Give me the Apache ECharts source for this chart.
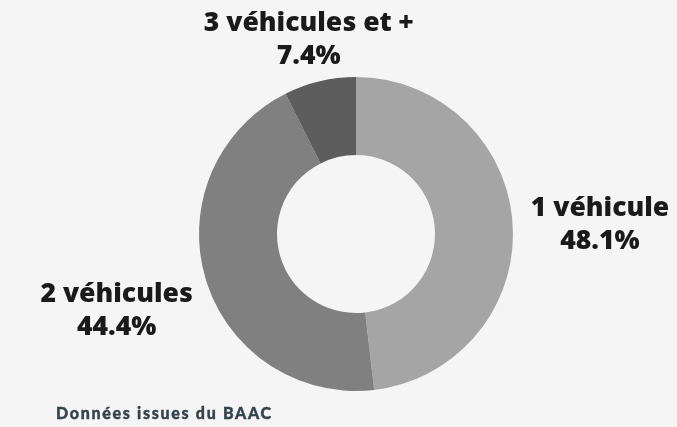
<!DOCTYPE html>
<html>
<head>
<meta charset="utf-8">
<script src="https://cdn.jsdelivr.net/npm/echarts@6/dist/echarts.min.js"></script>
<style>
  html, body { margin: 0; padding: 0; background: #f5f5f5; }
  #wrap { position: relative; width: 677px; height: 427px; }
  #chart { width: 677px; height: 427px; }
  #source {
    position: absolute; left: 56px; top: 403px;
    font-family: "Lato", "Open Sans", sans-serif; font-weight: 900;
    font-size: 16px; letter-spacing: 1.7px; color: #34444e;
    -webkit-text-stroke: 0.4px #34444e;
    white-space: nowrap;
  }
</style>
</head>
<body>
<div id="wrap">
  <div id="chart"></div>
  <div id="source">Données issues du BAAC</div>
</div>
<script>
// Répartition des accidents selon le nombre de véhicules impliqués
const categories = ['1 véhicule', '2 véhicules', '3 véhicules et +'];
const shares = [48.1, 44.4, 7.4];
const sliceColors = ['#a5a5a5', '#808080', '#5d5d5d'];

const CENTER = [356, 234];
const OUTER_R = 157;
const INNER_R = 79;
const LABEL_GAP = 18;
const TEXT_DROP = 6;   // glyphs sit high in their line boxes

const total = shares.reduce((a, b) => a + b, 0);

const chart = echarts.init(document.getElementById('chart'), null, { renderer: 'canvas' });

// Centre each two-line label on the radius through the middle of its slice,
// pushed out so its nearer side clears the ring.
function placeLabel(p) {
  let before = 0;
  for (let k = 0; k < p.dataIndex; k++) before += shares[k];
  const mid = (before + shares[p.dataIndex] / 2) / total * Math.PI * 2;
  const vx = Math.sin(mid), vy = -Math.cos(mid);
  const d = OUTER_R + LABEL_GAP + Math.abs(vx) * p.labelRect.width / 2 + Math.abs(vy) * TEXT_DROP;
  return {
    x: CENTER[0] + vx * d,
    y: CENTER[1] + vy * d + TEXT_DROP,
    align: 'center',
    verticalAlign: 'middle'
  };
}

chart.setOption({
  backgroundColor: '#f5f5f5',
  animation: false,
  series: [{
    type: 'pie',
    center: CENTER,
    radius: [INNER_R, OUTER_R],
    startAngle: 90,
    clockwise: true,
    avoidLabelOverlap: false,
    silent: true,
    itemStyle: { borderWidth: 0 },
    label: {
      show: true,
      position: 'inside',
      formatter: p => p.name + '\n' + p.value.toFixed(1) + '%',
      fontFamily: '"Open Sans ExtraBold", "Open Sans", sans-serif',
      fontWeight: 800,
      fontSize: 26.5,
      lineHeight: 33,
      color: '#1a1a1a',
      align: 'center'
    },
    labelLine: { show: false },
    labelLayout: placeLabel,
    data: categories.map((c, i) => ({
      name: c,
      value: shares[i],
      itemStyle: { color: sliceColors[i] }
    }))
  }]
});
</script>
</body>
</html>
